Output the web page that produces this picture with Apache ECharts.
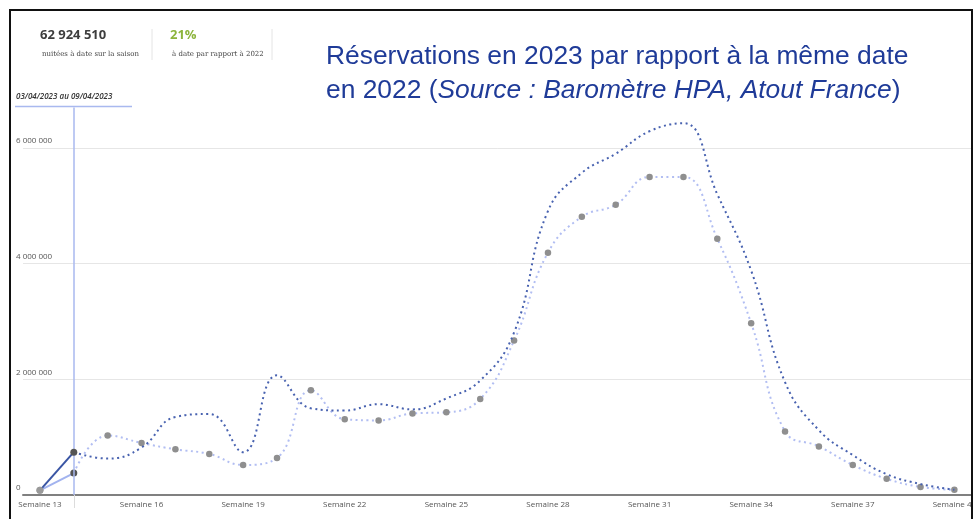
<!DOCTYPE html>
<html>
<head>
<meta charset="utf-8">
<title>Réservations 2023 / 2022</title>
<script src="https://cdn.jsdelivr.net/npm/echarts@6/dist/echarts.min.js"></script>
<style>
  html, body { margin: 0; padding: 0; background: #fff; }
  #chart { width: 979px; height: 519px; }
</style>
</head>
<body>
<div id="chart"></div>
<script>
// semaines 13 a 40
var weeks = ['Semaine 13','Semaine 14','Semaine 15','Semaine 16','Semaine 17','Semaine 18','Semaine 19',
  'Semaine 20','Semaine 21','Semaine 22','Semaine 23','Semaine 24','Semaine 25','Semaine 26','Semaine 27',
  'Semaine 28','Semaine 29','Semaine 30','Semaine 31','Semaine 32','Semaine 33','Semaine 34','Semaine 35',
  'Semaine 36','Semaine 37','Semaine 38','Semaine 39','Semaine 40'];

// nuitées 2023 (courbe foncée)
var res2023 = [80000, 740000, 630000, 820000, 1350000, 1400000, 740000, 2070000, 1500000, 1460000,
  1570000, 1480000, 1670000, 1980000, 2810000, 4910000, 5570000, 5900000, 6290000, 6430000,
  5200000, 3880000, 1950000, 1120000, 690000, 360000, 190000, 90000];

// nuitées 2022 (courbe claire)
var res2022 = [80000, 380000, 1030000, 900000, 790000, 710000, 520000, 640000, 1810000, 1310000,
  1290000, 1410000, 1430000, 1660000, 2670000, 4190000, 4810000, 5020000, 5500000, 5500000,
  4430000, 2970000, 1100000, 840000, 520000, 280000, 140000, 90000];

var yTicks = [0, 2000000, 4000000, 6000000];

var doneIdx = 1; // semaine en cours (03/04 au 09/04)

function fmt(v) {
  return String(v).replace(/\B(?=(\d{3})+(?!\d))/g, ' ');
}

// partie "réalisée" (trait plein) et partie en pointillés
function solidPart(arr) {
  return arr.map(function (v, i) {
    if (i > doneIdx) return null;
    return { value: v, itemStyle: { color: i === doneIdx ? '#555' : '#9a9a9a' } };
  });
}
function dottedPart(arr) {
  return arr.map(function (v, i) { return i < doneIdx ? null : v; });
}

var myChart = echarts.init(document.getElementById('chart'));

myChart.setOption({
  animation: false,
  title: {
    left: 321,
    top: 35,
    text: '{a|Réservations en 2023 par rapport à la même date}\n{a|en 2022 (}{i|Source : Baromètre HPA, Atout France}{a|)}',
    textStyle: {
      fontWeight: 'normal',
      rich: {
        a: { fontFamily: 'Liberation Sans', fontSize: 26.4, fontWeight: 'normal', color: '#1f3b98', lineHeight: 34 },
        i: { fontFamily: 'Liberation Sans', fontSize: 26.4, fontWeight: 'normal', fontStyle: 'italic', color: '#1f3b98', lineHeight: 34 }
      }
    }
  },
  grid: { left: 23, right: 4, top: 107.5, bottom: 24 },
  xAxis: {
    type: 'category',
    data: weeks,
    axisLine: { lineStyle: { color: '#808080', width: 2 } },
    axisTick: {
      show: true,
      alignWithLabel: true,
      length: 13,
      interval: function (idx) { return idx === doneIdx; },
      lineStyle: { color: '#dcdcdc', width: 1 }
    },
    axisLabel: {
      interval: 2,
      margin: 6,
      fontFamily: 'Open Sans',
      fontSize: 8,
      color: '#555'
    },
    splitLine: { show: false }
  },
  yAxis: {
    type: 'value',
    min: 0,
    max: 6700000,
    interval: 2000000,
    axisLine: { show: false },
    axisTick: { show: false },
    axisLabel: {
      inside: true,
      margin: -7,
      showMaxLabel: false,
      verticalAlign: 'bottom',
      padding: [0, 0, 3, 0],
      fontFamily: 'Open Sans',
      fontSize: 8,
      color: '#555',
      formatter: function (v) { return yTicks.indexOf(v) >= 0 ? fmt(v) : ''; }
    },
    splitLine: { show: true, showMaxLine: false, lineStyle: { color: '#e6e6e6', width: 1 } }
  },
  series: [
    {
      name: '2023 prévision',
      type: 'line',
      smooth: 0.45,
      data: dottedPart(res2023),
      symbol: 'none',
      lineStyle: { color: '#4862b0', width: 2, type: [2, 3.5] },
      z: 3
    },
    {
      name: '2022 prévision',
      type: 'line',
      smooth: 0.45,
      data: dottedPart(res2022),
      symbol: function (v, p) { return p.dataIndex <= doneIdx ? 'none' : 'circle'; },
      symbolSize: 6.5,
      itemStyle: { color: '#8f8f8f' },
      lineStyle: { color: '#b2bef2', width: 2, type: [2, 3.5] },
      z: 2
    },
    {
      name: '2022',
      type: 'line',
      data: solidPart(res2022),
      symbol: 'circle',
      symbolSize: 7,
      lineStyle: { color: '#a2b3ef', width: 2 },
      z: 4
    },
    {
      name: '2023',
      type: 'line',
      data: solidPart(res2023),
      symbol: 'circle',
      symbolSize: 7,
      lineStyle: { color: '#3a55a4', width: 2 },
      z: 5,
      markLine: {
        silent: true,
        symbol: 'none',
        label: { show: false },
        lineStyle: { color: '#a9b9ef', width: 1.5, type: 'solid' },
        data: [{ xAxis: doneIdx }]
      }
    }
  ],
  graphic: [
    // bord droit coupé
    { type: 'rect', shape: { x: 973, y: 0, width: 10, height: 519 },
      style: { fill: '#fff' }, z: 99, silent: true },
    // cadre
    { type: 'rect', shape: { x: 10, y: 10, width: 962, height: 530 },
      style: { fill: 'none', stroke: '#111', lineWidth: 2 }, z: 100, silent: true },
    // en-tête chiffres
    { type: 'text', left: 40, top: 29,
      style: { text: '62 924 510', font: 'bold 13px "Open Sans"', fill: '#3d3d3d' } },
    { type: 'text', left: 42, top: 51,
      style: { text: 'nuitées à date sur la saison', font: '7px "DejaVu Serif"', fill: '#444' } },
    { type: 'line', shape: { x1: 152, y1: 29, x2: 152, y2: 60 }, style: { stroke: '#e4e4e4', lineWidth: 1 } },
    { type: 'text', left: 170, top: 29,
      style: { text: '21%', font: 'bold 13px "Open Sans"', fill: '#8cb43c' } },
    { type: 'text', left: 172, top: 51,
      style: { text: 'à date par rapport à 2022', font: '7px "DejaVu Serif"', fill: '#444' } },
    { type: 'line', shape: { x1: 272, y1: 29, x2: 272, y2: 60 }, style: { stroke: '#e4e4e4', lineWidth: 1 } },
    // période sélectionnée
    { type: 'text', left: 16, top: 93,
      style: { text: '03/04/2023 au 09/04/2023', font: 'italic 600 8px "Open Sans"', fill: '#333' } },
    { type: 'line', shape: { x1: 15, y1: 106.5, x2: 132, y2: 106.5 }, style: { stroke: '#a9b9ef', lineWidth: 1.5 } }
  ]
});
</script>
</body>
</html>
